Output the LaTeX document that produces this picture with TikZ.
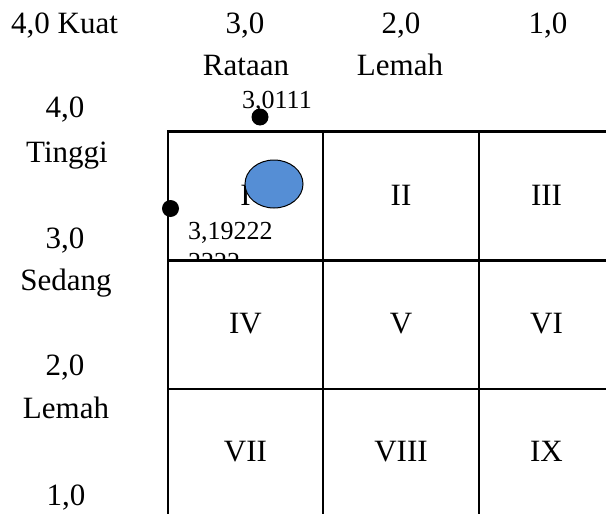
\documentclass[tikz,border=0pt]{standalone}
\usepackage{fontspec}
\setmainfont{Liberation Serif}
\definecolor{ellblue}{HTML}{558ED5}
\begin{document}
\begin{tikzpicture}[x=1pt,y=-1pt,
  big/.style={inner sep=0pt,anchor=base,font=\fontsize{31}{37}\selectfont},
  small/.style={inner sep=0pt,anchor=base west,font=\fontsize{26}{31}\selectfont},
  gridline/.style={line width=2.2pt},
  dotmark/.style={circle,fill=black,inner sep=0pt,minimum size=17pt}]
\useasboundingbox (0,0) rectangle (606,514);
% grid
\coordinate (g1t) at (168,131.5); \coordinate (g1b) at (168,514);
\coordinate (g2t) at (323,131.5); \coordinate (g2b) at (323,514);
\coordinate (g3t) at (479,131.5); \coordinate (g3b) at (479,514);
\coordinate (h1l) at (167,131.5); \coordinate (h1r) at (606,131.5);
\coordinate (h2l) at (168,260.5); \coordinate (h2r) at (606,260.5);
\coordinate (h3l) at (168,389); \coordinate (h3r) at (606,389);
\draw[gridline] (g1t) -- (g1b);
\draw[gridline] (g2t) -- (g2b);
\draw[gridline] (g3t) -- (g3b);
\draw[gridline] (h1l) -- (h1r);
\draw[gridline] (h2l) -- (h2r);
\draw[gridline] (h3l) -- (h3r);
% top labels
\node[big,anchor=base west] (kuat) at (11,33) {4,0 Kuat};
\node[big] (t3) at (245,33) {3,0};
\node[big] (t2) at (401,33) {2,0};
\node[big] (t1) at (548,33) {1,0};
\node[big] (rataan) at (246,75) {Rataan};
\node[big] (lemahT) at (400,75) {Lemah};
% left labels
\node[big] (l4) at (65,117) {4,0};
\node[big] (tinggi) at (67,162) {Tinggi};
\node[big] (l3) at (65,248) {3,0};
\node[big] (sedang) at (66,290) {Sedang};
\node[big] (l2) at (65,375) {2,0};
\node[big] (lemahL) at (66,418) {Lemah};
\node[big] (l1) at (66,505) {1,0};
% cells
\node[big] (cI) at (245.5,205) {I};
\node[big] (cII) at (401,205) {II};
\node[big] (cIII) at (546.5,205) {III};
\node[big] (cIV) at (245.5,333) {IV};
\node[big] (cV) at (401,333) {V};
\node[big] (cVI) at (546.5,333) {VI};
\node[big] (cVII) at (245.5,461) {VII};
\node[big] (cVIII) at (401,461) {VIII};
\node[big] (cIX) at (546.5,461) {IX};
% marker ellipse
\draw[fill=ellblue,line width=1pt] (274,184) ellipse [x radius=29,y radius=24];
% values
\node[small] (v1) at (242,108) {3,0111};
\node[small] (v2) at (188,239) {3,19222};
\begin{scope}
\clip (150,240) rectangle (320,258.5);
\node[small] (v3) at (188,270) {2222};
\end{scope}
% dots
\node[dotmark] (dtop) at (260,117) {};
\node[dotmark] (dleft) at (170.5,208.5) {};
\end{tikzpicture}
\end{document}
